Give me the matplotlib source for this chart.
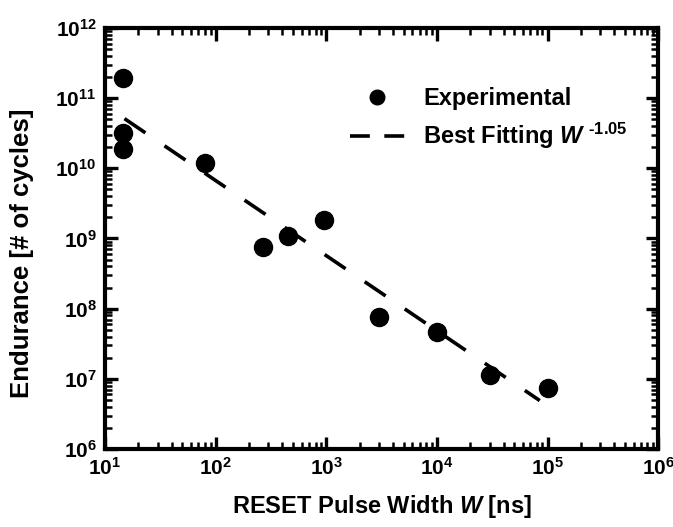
import numpy as np
import matplotlib.pyplot as plt
from matplotlib.lines import Line2D
from matplotlib.ticker import LogLocator, NullFormatter

plt.rcParams['font.family'] = ['Liberation Sans', 'DejaVu Sans']
plt.rcParams['font.weight'] = 'bold'
plt.rcParams['mathtext.fontset'] = 'custom'
plt.rcParams['mathtext.rm'] = 'Liberation Sans:bold'
plt.rcParams['mathtext.it'] = 'Liberation Sans:bold:italic'
plt.rcParams['mathtext.bf'] = 'Liberation Sans:bold'
plt.rcParams['mathtext.default'] = 'rm'

# measured points
pulse_width = [14.5, 14.5, 14.5, 80, 270, 450, 950, 3000, 10000, 30000, 100000]  # ns
endurance = [1.95e11, 3.2e10, 1.9e10, 1.18e10, 7.6e8, 1.1e9, 1.85e9, 7.6e7, 4.6e7, 1.12e7, 7.5e6]

# best fit (W^-1.05), end points
fit_w = [15, 85000]
fit_endurance = [5.1e10, 4.9e6]

xticks = [1e1, 1e2, 1e3, 1e4, 1e5, 1e6]
xtick_labels = [r'$10^{1}$', r'$10^{2}$', r'$10^{3}$', r'$10^{4}$', r'$10^{5}$', r'$10^{6}$']
yticks = [1e6, 1e7, 1e8, 1e9, 1e10, 1e11, 1e12]
ytick_labels = [r'$10^{6}$', r'$10^{7}$', r'$10^{8}$', r'$10^{9}$', r'$10^{10}$', r'$10^{11}$', r'$10^{12}$']

fig = plt.figure(figsize=(6.73, 5.27), dpi=100)
ax = fig.add_axes([0.156, 0.148, 0.822, 0.799])

ax.plot(pulse_width, endurance, 'o', color='black', markersize=13)
ax.plot(fit_w, fit_endurance, color='black', lw=2.6, dashes=(7.0, 6.4))

ax.set_xscale('log')
ax.set_yscale('log')
ax.set_xlim(1e1, 1e6)
ax.set_ylim(1e6, 1e12)
ax.set_xticks(xticks, xtick_labels)
ax.set_yticks(yticks, ytick_labels)
ax.xaxis.set_minor_locator(LogLocator(base=10, subs=np.arange(2, 10), numticks=20))
ax.yaxis.set_minor_locator(LogLocator(base=10, subs=np.arange(2, 10), numticks=20))
ax.xaxis.set_minor_formatter(NullFormatter())
ax.yaxis.set_minor_formatter(NullFormatter())

ax.tick_params(which='both', direction='in', top=True, right=True, labelsize=15)
ax.tick_params(which='major', length=9, width=2.4, pad=6)
ax.tick_params(which='minor', length=5, width=1.8)
for s in ax.spines.values():
    s.set_linewidth(3)

ax.set_xlabel(r'RESET Pulse Width $\mathit{W}$ [ns]', fontsize=17, fontweight='bold', labelpad=10)
ax.set_ylabel('Endurance [# of cycles]', fontsize=18.5, fontweight='bold')
ax.yaxis.set_label_coords(-0.128, 0.466)

# legend handles (the dash pattern is shortened so two dashes fit)
h_exp = Line2D([], [], ls='none', marker='o', color='black', markersize=10.5)
h_fit = Line2D([], [], color='black', lw=2.6, dashes=(5.5, 4.0))
ax.legend([h_exp, h_fit], ['Experimental', r'Best Fitting $\mathit{W}^{\ \text{-1.05}}$'],
          loc='upper left', bbox_to_anchor=(0.405, 0.91), frameon=False, fontsize=17,
          handlelength=2.3, handletextpad=0.8, labelspacing=0.45)

fig.savefig('out.png', dpi=100)
